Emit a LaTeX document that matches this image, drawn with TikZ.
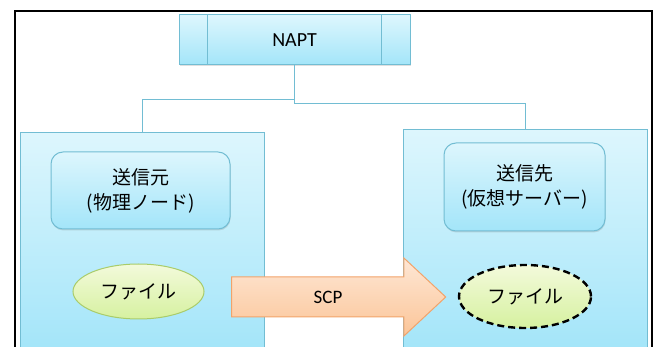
\documentclass[tikz,border=0pt]{standalone}
\usepackage{fontspec}
\setmainfont{Carlito}
\newfontfamily\jp{Noto Sans CJK JP}
\usetikzlibrary{shapes.geometric,shapes.arrows,shadows}
\definecolor{boxtop}{HTML}{DDF6FD}
\definecolor{boxbot}{HTML}{A3E5F9}
\definecolor{boxline}{HTML}{72BDD3}
\definecolor{filetop}{HTML}{F3FADB}
\definecolor{filebot}{HTML}{D6F1A0}
\definecolor{fileline}{HTML}{A9CC6A}
\definecolor{scptop}{HTML}{FEE7D5}
\definecolor{scpbot}{HTML}{FBC598}
\definecolor{scpline}{HTML}{F2A36A}
\tikzset{>=latex,
  host/.style={draw=boxline, line width=1pt, top color=boxtop, bottom color=boxbot, minimum width=244, inner sep=0pt},
  role/.style={draw=boxline, line width=1pt, top color=boxtop, bottom color=boxbot, rounded corners=12pt, align=center,
    font=\jp\fontsize{19}{25}\selectfont, drop shadow={shadow xshift=0.5pt, shadow yshift=-1.5pt, opacity=0.25}},
  file/.style={ellipse, top color=filetop, bottom color=filebot, font=\jp\fontsize{19}{23}\selectfont, inner sep=0pt},
  link/.style={draw=boxline, line width=1pt}
}
\begin{document}
\begin{tikzpicture}[x=1pt, y=-1pt]
  \useasboundingbox (0,0) rectangle (656,347);
  \clip (0,0) rectangle (656,347);
  % hosts
  \node[host, minimum height=219] (src) at (142,242.5) {};
  \node[host, minimum height=222] (dst) at (525,241) {};
  % NAPT
  \node[draw=boxline, line width=1pt, top color=boxtop, bottom color=boxbot, minimum width=231, minimum height=50,
    font=\fontsize{20}{24}\selectfont, drop shadow={shadow xshift=0.5pt, shadow yshift=-1.5pt, opacity=0.25}] (napt) at (294.5,40) {NAPT};
  \draw[link] ([xshift=29pt]napt.north west) -- ([xshift=29pt]napt.south west);
  \draw[link] ([xshift=-29pt]napt.north east) -- ([xshift=-29pt]napt.south east);
  \draw[link] (napt.south) -- ++(0,34) -| (src.north);
  \draw[link] (napt.south) -- ++(0,38) -| (dst.north);
  % roles
  \node[role, minimum width=179, minimum height=77] (srcrole) at (140.5,190.5) {送信元\\(物理ノード)};
  \node[role, minimum width=161, minimum height=88] (dstrole) at (524.5,187) {送信先\\(仮想サーバー)};
  % files
  \node[file, draw=fileline, line width=1pt, minimum width=131, minimum height=55] (srcfile) at (138.5,291.5) {ファイル};
  \node[file, draw=black, line width=2.4pt, dash pattern=on 7pt off 4pt, minimum width=132, minimum height=63] (dstfile) at (525,296.5) {ファイル};
  % transfer
  \node[single arrow, draw=scpline, line width=1pt, top color=scptop, bottom color=scpbot, minimum height=214, minimum width=77,
    single arrow head extend=19, single arrow tip angle=86, inner xsep=0pt, inner ysep=13pt, text height=13pt, text depth=0pt,
    font=\fontsize{19}{23}\selectfont] (scp) at (328,297) {SCP};
  % frame
  \draw[line width=2pt] (15,352) -- (15,11) -- (652,11) -- (652,352);
\end{tikzpicture}
\end{document}
